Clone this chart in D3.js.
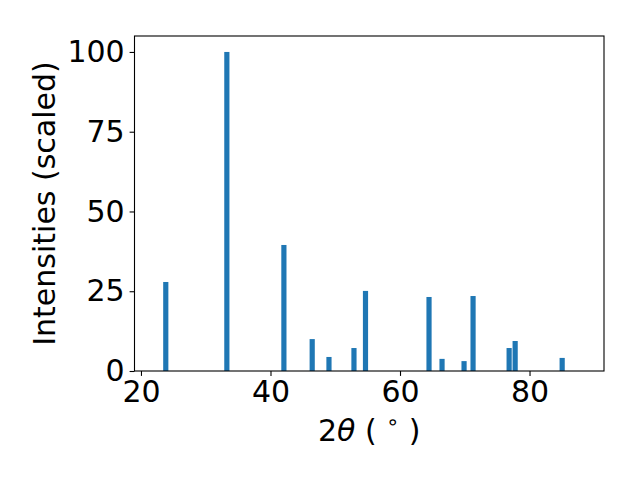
<!DOCTYPE html>
<html>
<head>
    <script src="https://d3js.org/d3.v7.min.js"></script>
    <style>
        body { margin: 0; background: white; }
        text { font-family: "DejaVu Sans", sans-serif; }
    </style>
</head>
<body>
<div id="chart"></div>
<script>
    // peak positions (2theta, degrees) and scaled intensities
    const twoTheta = [23.83, 33.26, 42.07, 46.44, 49.03, 52.89, 54.67, 64.48, 66.49, 69.89, 71.28, 76.85, 77.78, 85.04];
    const intensity = [27.9, 100, 39.5, 10.0, 4.4, 7.2, 25.1, 23.2, 3.8, 3.1, 23.5, 7.2, 9.4, 4.1];
    const xTicks = [20, 40, 60, 80];
    const yTicks = [0, 25, 50, 75, 100];
    const barWidth = 0.8;

    const width = 640, height = 480;
    const margin = {left: 134.5, right: 36, top: 36, bottom: 109};
    const fontSize = '30px';

    const svg = d3.select('#chart').append('svg')
        .attr('width', width)
        .attr('height', height);

    const x = d3.scaleLinear().domain([19.0, 91.5]).range([margin.left, width - margin.right]);
    const y = d3.scaleLinear().domain([0, 105]).range([height - margin.bottom, margin.top]);

    const peaks = twoTheta.map((t, i) => ({t: t, v: intensity[i]}));

    // bars
    svg.append('g')
        .selectAll('rect')
        .data(peaks)
        .enter()
        .append('rect')
        .attr('x', d => x(d.t - barWidth / 2))
        .attr('width', d => x(d.t + barWidth / 2) - x(d.t - barWidth / 2))
        .attr('y', d => y(d.v))
        .attr('height', d => y(0) - y(d.v))
        .attr('fill', '#1f77b4');

    // axes
    const xAxis = svg.append('g')
        .attr('transform', `translate(0,${y(0)})`)
        .call(d3.axisBottom(x).tickValues(xTicks).tickSize(4.9).tickPadding(4.9).tickFormat(d3.format('d')));
    const yAxis = svg.append('g')
        .attr('transform', `translate(${x.range()[0]},0)`)
        .call(d3.axisLeft(y).tickValues(yTicks).tickSize(4.9).tickPadding(4.9).tickFormat(d3.format('d')));

    [xAxis, yAxis].forEach(g => {
        g.select('.domain').remove();
        g.selectAll('.tick line').attr('stroke', 'black').attr('stroke-width', 1.1);
        g.selectAll('.tick text')
            .attr('fill', 'black')
            .style('font-size', fontSize)
            .style('font-family', '"DejaVu Sans", sans-serif');
    });

    // frame
    svg.append('rect')
        .attr('x', x.range()[0])
        .attr('y', y.range()[1])
        .attr('width', x.range()[1] - x.range()[0])
        .attr('height', y.range()[0] - y.range()[1])
        .attr('fill', 'none')
        .attr('stroke', 'black')
        .attr('stroke-width', 1.1);

    // axis labels
    const xLabel = svg.append('text')
        .attr('x', (x.range()[0] + x.range()[1]) / 2)
        .attr('y', 441)
        .attr('text-anchor', 'middle')
        .style('font-size', fontSize);
    xLabel.append('tspan').text('2');
    xLabel.append('tspan').style('font-style', 'italic').text('θ');
    xLabel.append('tspan').text(' ( ');
    xLabel.append('tspan').attr('dy', -12).style('font-size', '21px').text('∘');
    xLabel.append('tspan').attr('dy', 12).text(' )');

    svg.append('text')
        .attr('transform', `translate(55,${(y.range()[0] + y.range()[1]) / 2}) rotate(-90)`)
        .attr('text-anchor', 'middle')
        .style('font-size', fontSize)
        .text('Intensities (scaled)');
</script>
</body>
</html>
